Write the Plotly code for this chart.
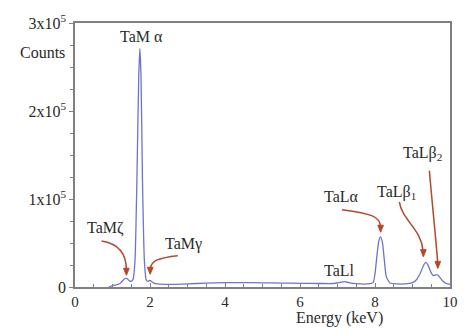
import plotly.graph_objects as go

# Spectrum (energy in keV, counts)
energy = [0.9, 1.0, 1.1, 1.2, 1.3, 1.35, 1.4, 1.45, 1.5, 1.55, 1.6, 1.65, 1.7, 1.73, 1.76, 1.8,
          1.85, 1.9, 1.95, 2.0, 2.05, 2.1, 2.2, 2.5, 3.0, 3.5, 4.0, 4.5, 5.0, 5.5, 6.0, 6.5,
          6.9, 7.1, 7.2, 7.3, 7.5, 7.8, 7.95, 8.0, 8.05, 8.1, 8.15, 8.2, 8.25, 8.3, 8.4, 8.6,
          8.8, 9.0, 9.1, 9.2, 9.3, 9.35, 9.4, 9.5, 9.55, 9.65, 9.7, 9.8, 9.9, 10.0]
counts = [0, 1500, 2500, 4000, 8500, 10000, 9000, 7000, 6500, 9000, 30000, 120000, 240000, 271000,
          240000, 120000, 30000, 8000, 6500, 7500, 6000, 4500, 3500, 3000, 3500, 4500, 5000, 5000,
          4800, 4500, 4200, 4000, 4000, 5500, 6000, 5000, 3800, 3500, 5000, 15000, 35000, 52000,
          57000, 50000, 30000, 12000, 4500, 3500, 3500, 5000, 8000, 15000, 25000, 28000, 26000,
          16000, 13000, 14000, 12500, 7000, 4000, 3000]

ytick_vals = [0, 100000, 200000, 300000]
ytick_text = ["0", "1x10<sup>5</sup>", "2x10<sup>5</sup>", "3x10<sup>5</sup>"]
xtick_vals = [0, 2, 4, 6, 8, 10]

# Peak labels: text, x, y
label_text = ["TaM α", "TaMζ", "TaMγ", "TaLl", "TaLα", "TaLβ<sub>1</sub>", "TaLβ<sub>2</sub>"]
label_x = [1.77, 0.82, 2.88, 7.05, 7.10, 8.58, 9.26]
label_y = [285000, 66700, 48900, 18900, 103300, 107800, 152200]

# Curved arrows: cubic bezier control points (x0,y0,x1,y1,x2,y2,x3,y3) and tip
arrow_paths = [
    (0.71, 52200, 1.19, 48900, 1.37, 35600, 1.37, 19500),
    (2.74, 35600, 2.24, 33300, 2.03, 30000, 2.005, 20500),
    (7.12, 87800, 7.92, 83300, 8.13, 80000, 8.15, 68500),
    (8.65, 96700, 8.71, 76700, 9.24, 65600, 9.28, 41500),
    (9.45, 132200, 9.52, 96700, 9.63, 52200, 9.67, 28500),
]
arrow_tips = [(1.37, 13300), (2.005, 14400), (8.15, 62200), (9.29, 34400), (9.675, 21100)]
HEAD_HALF_W = 0.075   # keV
HEAD_LEN = 8000       # counts

SERIF = "Liberation Serif"
TXT = "#2a2a2a"
ARROW = "#b5472c"

W, H = 470, 329
L, R, T, B = 75, 16, 17, 42
pw, ph = W - L - R, H - T - B

fig = go.Figure()
fig.add_trace(go.Scatter(x=energy, y=counts, mode="lines",
                         line=dict(color="#6f72d4", width=1.3, shape="spline", smoothing=0.5),
                         hoverinfo="skip", showlegend=False))

for t, x, y in zip(label_text, label_x, label_y):
    fig.add_annotation(x=x, y=y, text=t, showarrow=False, xanchor="center", yanchor="middle",
                       font=dict(family=SERIF, size=16, color=TXT))

for p in arrow_paths:
    path = f"M {p[0]},{p[1]} C {p[2]},{p[3]} {p[4]},{p[5]} {p[6]},{p[7]}"
    fig.add_shape(type="path", path=path, xref="x", yref="y",
                  line=dict(color=ARROW, width=1.5))

for (tx, ty) in arrow_tips:
    head = (f"M {tx},{ty} L {tx - HEAD_HALF_W},{ty + HEAD_LEN} "
            f"L {tx + HEAD_HALF_W},{ty + HEAD_LEN} Z")
    fig.add_shape(type="path", path=head, xref="x", yref="y",
                  fillcolor=ARROW, line=dict(color=ARROW, width=1))

fig.add_annotation(text="Counts", x=(42 - L) / pw, y=(H - B - 47) / ph,
                   xref="paper", yref="paper", xanchor="center", yanchor="middle",
                   showarrow=False, font=dict(family=SERIF, size=16, color=TXT))
fig.add_annotation(text="Energy (keV)", x=(342 - L) / pw, y=(H - B - 319) / ph,
                   xref="paper", yref="paper", xanchor="center", yanchor="middle",
                   showarrow=False, font=dict(family=SERIF, size=16, color=TXT))

fig.update_layout(
    width=W, height=H, autosize=False,
    margin=dict(l=L, r=R, t=T, b=B, pad=0),
    plot_bgcolor="white", paper_bgcolor="white",
    font=dict(family=SERIF, size=16, color=TXT),
    xaxis=dict(range=[0, 10], tickvals=xtick_vals, showgrid=False, zeroline=False,
               showline=True, linecolor="#808080", linewidth=1.5, mirror=True,
               ticks="inside", ticklen=4, tickcolor="#808080", tickwidth=1,
               tickfont=dict(family=SERIF, size=15, color=TXT),
               minor=dict(dtick=0.5, ticks="inside", ticklen=3, tickcolor="#808080")),
    yaxis=dict(range=[0, 300000], tickvals=ytick_vals, ticktext=ytick_text, showgrid=False,
               zeroline=False, showline=True, linecolor="#808080", linewidth=1.5, mirror=True,
               ticks="outside", ticklen=4, tickcolor="#808080", tickwidth=1,
               tickfont=dict(family=SERIF, size=16, color=TXT),
               minor=dict(dtick=25000, ticks="outside", ticklen=3, tickcolor="#808080")),
)

fig.write_html("out.html")
